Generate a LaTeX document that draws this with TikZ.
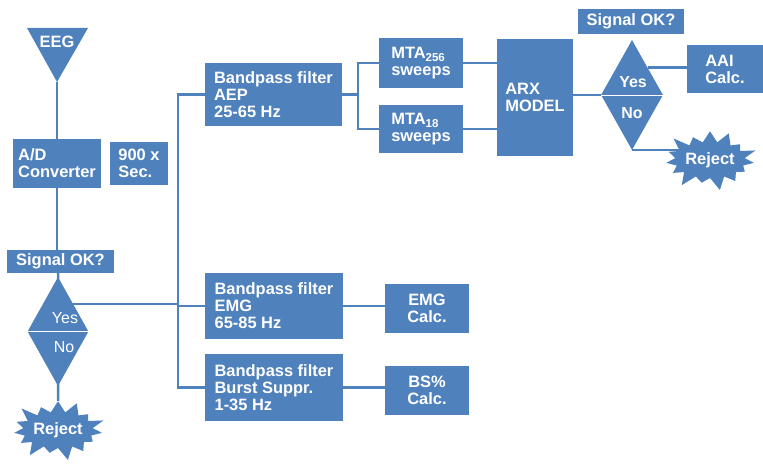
\documentclass[tikz,border=0pt]{standalone}
\usepackage{fontspec}
\setmainfont{Liberation Sans}
\usetikzlibrary{shapes.geometric, shapes.symbols, backgrounds}
\definecolor{boxBlue}{RGB}{79, 129, 189}

\begin{document}
\begin{tikzpicture}[x=1bp, y=-1bp,
    box/.style={fill=boxBlue, text=white, inner sep=0pt, align=left, font=\fontsize{16.5}{17}\selectfont\bfseries},
    link/.style={draw=boxBlue, line width=2.5bp},
    decision/.style={diamond, fill=boxBlue, inner sep=0pt, aspect=0.56},
    answer/.style={text=white, font=\fontsize{16}{17}\selectfont},
    reject/.style={starburst, starburst points=15, starburst point height=15bp, fill=boxBlue, text=white, inner sep=0pt, font=\fontsize{16.5}{17}\selectfont\bfseries}]
        \useasboundingbox (0,0) rectangle (763,464);
        % left column
        \fill[boxBlue] (27,28) -- (88,28) -- (57,82) -- cycle;
        \coordinate (eegtip) at (57,82);
        \node[text=white, font=\fontsize{16.5}{17}\selectfont\bfseries] (eeg) at (57,42) {EEG};
        \node[box, minimum width=88bp, minimum height=49bp] (ad) at (57,163.5) {A/D\\Converter};
        \node[box, minimum width=58bp, minimum height=43bp] (secs) at (139,163.5) {900 x\\Sec.};
        \node[box, minimum width=107bp, minimum height=23bp] (sigA) at (60.5,261.5) {Signal OK?};
        \node[decision, minimum width=61bp, minimum height=109bp] (diaA) at (58,331.5) {};
        \draw[white, line width=0.8bp] (diaA.west) -- (diaA.east);
        \node[answer] (yesA) at (65,318) {Yes};
        \node[answer] (noA) at (64,347) {No};
        \node[reject, minimum width=80bp, minimum height=66bp] (rejA) at (58,430) {Reject};
        % filters
        \node[box, minimum width=137bp, minimum height=63bp] (bpaep) at (273.5,94.5) {Bandpass filter\\AEP\\25-65 Hz};
        \node[box, minimum width=138bp, minimum height=66bp] (bpemg) at (274,306) {Bandpass filter\\EMG\\65-85 Hz};
        \node[box, minimum width=138bp, minimum height=67bp] (bpbs) at (274,387.5) {Bandpass filter\\Burst Suppr.\\1-35 Hz};
        \node[box, align=center, minimum width=84bp, minimum height=49bp] (emgc) at (427,308.5) {EMG\\Calc.};
        \node[box, align=center, minimum width=84bp, minimum height=49bp] (bsc) at (427,390.5) {BS\%\\Calc.};
        % AEP branch
        \node[box, minimum width=84bp, minimum height=50bp] (mtaA) at (421,63) {MTA\textsubscript{256}\\sweeps};
        \node[box, minimum width=84bp, minimum height=48bp] (mtaB) at (421,129) {MTA\textsubscript{18}\\sweeps};
        \node[box, minimum width=76bp, minimum height=117bp] (arx) at (535,97.5) {ARX\\MODEL};
        \node[box, minimum width=106bp, minimum height=25bp] (sigB) at (631,21.5) {Signal OK?};
        \node[decision, minimum width=62bp, minimum height=110bp] (diaB) at (632,95) {};
        \draw[white, line width=0.8bp] (diaB.west) -- (diaB.east);
        \node[answer, font=\fontsize{16}{17}\selectfont\bfseries] (yesB) at (633,82) {Yes};
        \node[answer, font=\fontsize{16}{17}\selectfont\bfseries] (noB) at (632,113) {No};
        \node[box, minimum width=76bp, minimum height=48bp] (aai) at (725,69) {AAI\\Calc.};
        \node[reject, minimum width=78bp, minimum height=66bp] (rejB) at (710,160) {Reject};
        % connectors
        \begin{scope}[on background layer]
            \draw[link] (eegtip) -- (ad);
            \draw[link] (ad) -- (ad |- sigA);
            \draw[link] (diaA |- sigA) -- (rejA);
            \draw[link] (bpaep.west) -- ++(-27,0) coordinate (bus) |- (bpbs.west);
            \draw[link] (diaA.north east) -- (diaA.north east -| bus);
            \draw[link] (bus |- bpemg) -- (bpemg);
            \draw[link] (bpaep.east) -- ++(16,0) coordinate (split);
            \draw[link] (mtaA.west) -| (split) |- (mtaB.west);
            \draw[link] (mtaA.east) -- (mtaA.east -| arx);
            \draw[link] (mtaB.east) -- (mtaB.east -| arx);
            \draw[link] (arx.east |- diaB) -- (diaB.west);
            \draw[link] (diaB.north east) -- (diaB.north east -| aai);
            \draw[link] (diaB.south) -- (diaB.south -| rejB);
            \draw[link] (bpemg.east) -- (bpemg.east -| emgc);
            \draw[link] (bpbs.east) -- (bpbs.east -| bsc);
        \end{scope}
      \end{tikzpicture}
\end{document}
